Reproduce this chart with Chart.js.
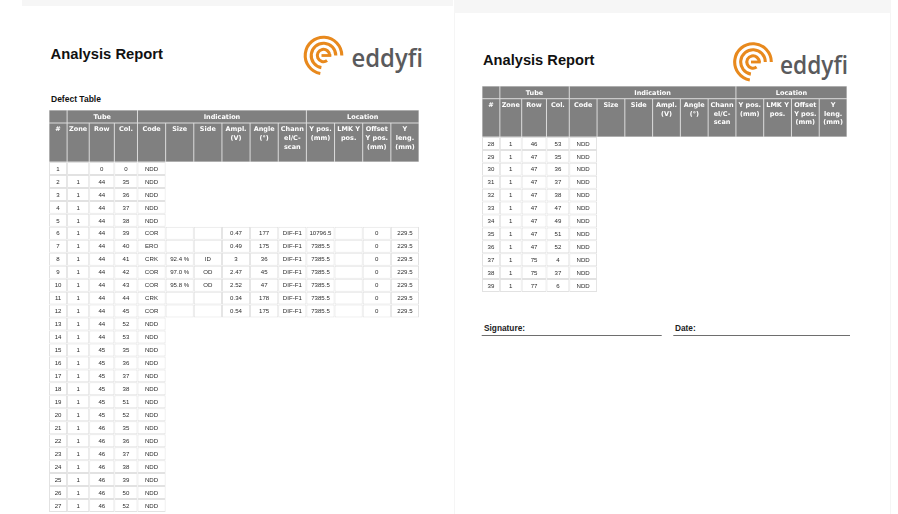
<!DOCTYPE html>
<html><head><meta charset="utf-8">
<script src="https://cdn.jsdelivr.net/npm/chart.js@4.4.1/dist/chart.umd.min.js"></script>
<style>
html,body{margin:0;padding:0;background:#fff;}
#root{position:relative;width:898px;height:514px;overflow:hidden;background:#fff;}
#deco{position:absolute;left:0;top:0;}
canvas{position:absolute;}
</style></head><body>
<div id="root">
<svg id="deco" width="898" height="514" xmlns="http://www.w3.org/2000/svg"></svg>
<canvas id="tblA" width="370" height="402" style="left:49px;top:110px;width:370px;height:402px"></canvas>
<canvas id="tblB" width="365" height="206" style="left:482px;top:86px;width:365px;height:206px"></canvas>
</div>
<script>
// ---------- DATA ----------
const defectNo = [1,2,3,4,5,6,7,8,9,10,11,12,13,14,15,16,17,18,19,20,21,22,23,24,25,26,27,28,29,30,31,32,33,34,35,36,37,38,39];
const zone = ['',1,1,1,1,1,1,1,1,1,1,1,1,1,1,1,1,1,1,1,1,1,1,1,1,1,1,1,1,1,1,1,1,1,1,1,1,1,1];
const tubeRow = [0,44,44,44,44,44,44,44,44,44,44,44,44,44,45,45,45,45,45,45,46,46,46,46,46,46,46,46,47,47,47,47,47,47,47,47,75,75,77];
const tubeCol = [0,35,36,37,38,39,40,41,42,43,44,45,52,53,35,36,37,38,51,52,35,36,37,38,39,50,52,53,35,36,37,38,47,49,51,52,4,37,6];
const code = ['NDD','NDD','NDD','NDD','NDD','COR','ERO','CRK','COR','COR','CRK','COR','NDD','NDD','NDD','NDD','NDD','NDD','NDD','NDD','NDD','NDD','NDD','NDD','NDD','NDD','NDD','NDD','NDD','NDD','NDD','NDD','NDD','NDD','NDD','NDD','NDD','NDD','NDD'];

const indicationNo = [6,7,8,9,10,11,12];
const size = ['','','92.4 %','97.0 %','95.8 %','',''];
const side = ['','','ID','OD','OD','',''];
const ampl = [0.47,0.49,3,2.47,2.52,0.34,0.54];
const angle = [177,175,36,45,47,178,175];
const channel = ['DIF-F1','DIF-F1','DIF-F1','DIF-F1','DIF-F1','DIF-F1','DIF-F1'];
const yPos = [10796.5,7385.5,7385.5,7385.5,7385.5,7385.5,7385.5];
const lmkYPos = ['','','','','','',''];
const offsetYPos = [0,0,0,0,0,0,0];
const yLength = [229.5,229.5,229.5,229.5,229.5,229.5,229.5];

const columnHeaders = ['#','Zone','Row','Col.','Code','Size','Side','Ampl.\n(V)','Angle\n(°)','Chann\nel/C-\nscan','Y pos.\n(mm)','LMK Y\npos.','Offset\nY pos.\n(mm)','Y\nleng.\n(mm)'];
const groupHeaders = ['','Tube','Indication','Location'];
const groupSpans = [1,3,6,4];
const pageOneLast = 27;

// ---------- LAYOUT (not data) ----------
const colWidthUnits = [18,22,25,23,28,28,28,28,28,28,28,28,28,28];
const edges = [0];
colWidthUnits.forEach(w => edges.push(edges[edges.length-1] + w));

function rowCells(n) {
  const i = n - 1;
  const base = [defectNo[i], zone[i], tubeRow[i], tubeCol[i], code[i]];
  const k = indicationNo.indexOf(n);
  if (k < 0) return base.concat(new Array(9).fill(null));
  return base.concat([size[k], side[k], ampl[k], angle[k], channel[k], yPos[k], lmkYPos[k], offsetYPos[k], yLength[k]]);
}

const tablePlugin = {
  id: 'defectTable',
  afterDatasetsDraw(chart, args, opts) {
    const {ctx, chartArea, scales} = chart;
    const xs = scales.x, ys = scales.y;
    const px = edges.map(e => xs.getPixelForValue(e));
    const top = chartArea.top - opts.headerH;
    const gH = opts.groupH;
    ctx.save();
    ctx.fillStyle = '#dcdcdc';
    ctx.fillRect(px[0], top, px[px.length-1] - px[0], opts.headerH);
    let c = 0;
    ctx.textAlign = 'center';
    ctx.textBaseline = 'middle';
    groupHeaders.forEach((g, gi) => {
      const x0 = px[c], x1 = px[c + groupSpans[gi]];
      ctx.fillStyle = '#808080';
      ctx.fillRect(x0 + 0.5, top + 0.5, x1 - x0 - 1, gH - 1);
      ctx.fillStyle = '#ffffff';
      ctx.font = 'bold 6.5px "DejaVu Sans"';
      if (g) ctx.fillText(g, (x0 + x1) / 2, top + gH / 2 + 0.5);
      c += groupSpans[gi];
    });
    const lTop = top + gH;
    const lH = chartArea.top - lTop;
    columnHeaders.forEach((h, ci) => {
      const x0 = px[ci], x1 = px[ci + 1];
      ctx.fillStyle = '#808080';
      ctx.fillRect(x0 + 0.5, lTop + 0.5, x1 - x0 - 1, lH - 1);
      ctx.fillStyle = '#ffffff';
      ctx.font = 'bold 6.5px "DejaVu Sans"';
      h.split('\n').forEach((ln, li) => {
        ctx.fillText(ln, (x0 + x1) / 2, lTop + 6.8 + li * 8.6);
      });
    });
    ctx.font = '6.1px "Liberation Sans"';
    ctx.fillStyle = '#2e2e2e';
    chart.data.datasets.forEach((ds, ci) => {
      const cx = (px[ci] + px[ci + 1]) / 2;
      ds.data.forEach((d, ri) => {
        if (d === null) return;
        const t = ds.cellText[ri];
        if (t === '') return;
        ctx.fillText(t, cx, ys.getPixelForValue(ri) + 0.5);
      });
    });
    ctx.restore();
  }
};

function makeTable(id, first, last, headerH) {
  const rows = defectNo.filter(n => n >= first && n <= last);
  const cells = rows.map(rowCells);
  const datasets = columnHeaders.map((h, ci) => ({
    label: h.replace(/\n/g, ' '),
    data: cells.map(r => r[ci] === null ? null : [edges[ci], edges[ci + 1]]),
    cellText: cells.map(r => r[ci] === null ? '' : String(r[ci])),
    backgroundColor: '#ffffff',
    borderColor: '#e2e2e2',
    borderWidth: 1,
    borderSkipped: false,
    inflateAmount: 0,
    grouped: false,
    barPercentage: 1,
    categoryPercentage: 1
  }));
  return new Chart(document.getElementById(id), {
    type: 'bar',
    data: { labels: rows.map(String), datasets },
    options: {
      indexAxis: 'y',
      responsive: false,
      animation: false,
      devicePixelRatio: 1,
      layout: { padding: { top: headerH, left: 0, right: 0, bottom: 0 } },
      scales: {
        x: { type: 'linear', min: 0, max: edges[edges.length - 1], display: false },
        y: { type: 'category', offset: true, display: false }
      },
      plugins: {
        legend: { display: false },
        tooltip: { enabled: false },
        defectTable: { headerH: headerH, groupH: headerH === 52 ? 13 : 12.7 }
      }
    },
    plugins: [tablePlugin]
  });
}

makeTable('tblA', 1, pageOneLast, 52);
makeTable('tblB', pageOneLast + 1, defectNo.length, 51);

// ---------- PAGE DECORATION ----------
function arcPath(cx, cy, r, endDeg) {
  const a = endDeg * Math.PI / 180;
  return `M${cx + r} ${cy} A${r} ${r} 0 1 0 ${(cx + r * Math.cos(a)).toFixed(2)} ${(cy + r * Math.sin(a)).toFixed(2)}`;
}
function logo(cx, cy, tx, tb, tl) {
  const o = '#e8891d';
  return `<path d="${arcPath(cx, cy, 18.3, 100)}" fill="none" stroke="${o}" stroke-width="3.1"/>` +
    `<path d="${arcPath(cx, cy, 12.3, 100)}" fill="none" stroke="${o}" stroke-width="3.1"/>` +
    `<path d="${arcPath(cx, cy, 6.2, 55)}" fill="none" stroke="${o}" stroke-width="3.1"/>` +
    `<line x1="${cx - 2}" y1="${cy}" x2="${cx + 7.8}" y2="${cy}" stroke="${o}" stroke-width="2.8"/>` +
    `<text x="${tx}" y="${tb}" font-family="'Open Sans'" font-weight="600" font-size="24.5" fill="#5a5a5c" textLength="${tl}" lengthAdjust="spacingAndGlyphs">eddyfi</text>`;
}
const svg = document.getElementById('deco');
svg.innerHTML =
  `<rect x="22" y="0" width="431" height="6" fill="#f6f6f6"/>` +
  `<rect x="454" y="0" width="437" height="13" fill="#f6f6f6"/>` +
  `<line x1="454.5" y1="13" x2="454.5" y2="514" stroke="#f5f5f5" stroke-width="1"/>` +
  `<line x1="890.5" y1="13" x2="890.5" y2="514" stroke="#f5f5f5" stroke-width="1"/>` +
  `<text x="50.5" y="59" font-family="'Liberation Sans'" font-weight="bold" font-size="15.5" fill="#111" textLength="112.5" lengthAdjust="spacingAndGlyphs">Analysis Report</text>` +
  `<text x="51" y="101.5" font-family="'Liberation Sans'" font-weight="bold" font-size="8.5" fill="#111">Defect Table</text>` +
  logo(323.5, 55.5, 351.5, 66.5, 71.5) +
  `<text x="483" y="64.5" font-family="'Liberation Sans'" font-weight="bold" font-size="15.5" fill="#111" textLength="111.5" lengthAdjust="spacingAndGlyphs">Analysis Report</text>` +
  logo(753, 62, 780, 73.5, 68) +
  `<text x="484" y="331" font-family="'Liberation Sans'" font-weight="bold" font-size="8.3" fill="#222">Signature:</text>` +
  `<line x1="481.7" y1="335.5" x2="661.7" y2="335.5" stroke="#6e6e6e" stroke-width="1.1"/>` +
  `<text x="675" y="331" font-family="'Liberation Sans'" font-weight="bold" font-size="8.3" fill="#222">Date:</text>` +
  `<line x1="673.3" y1="335.5" x2="850" y2="335.5" stroke="#6e6e6e" stroke-width="1.1"/>`;
</script>
</body></html>
